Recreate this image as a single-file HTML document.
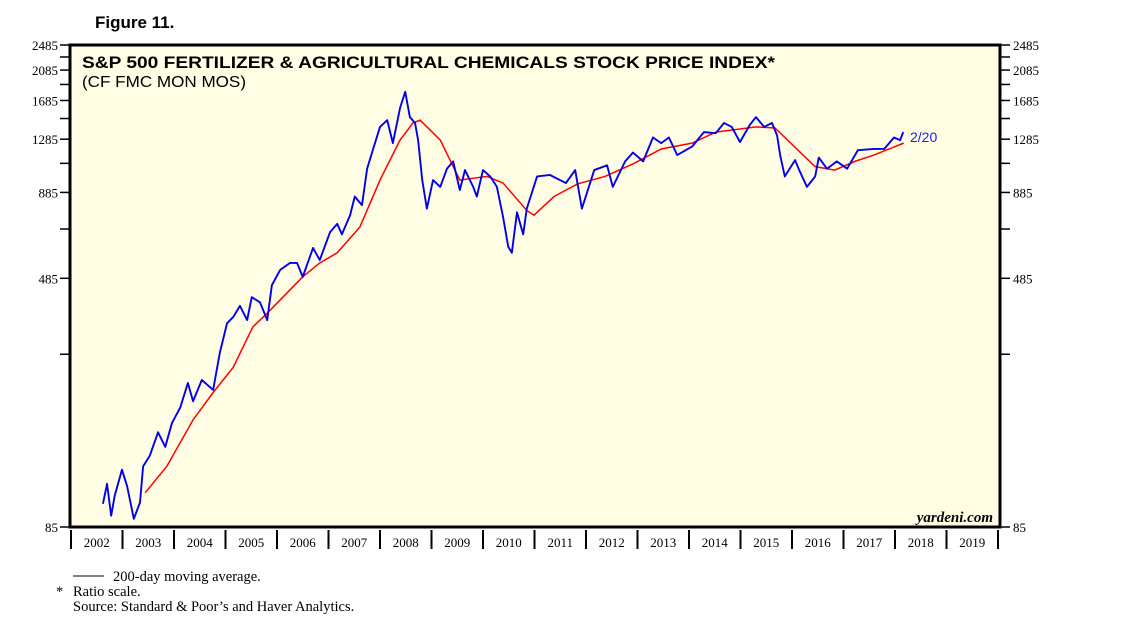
<!DOCTYPE html>
<html><head><meta charset="utf-8"><style>
body{margin:0;background:#fff;width:1138px;height:633px;overflow:hidden}
svg text{font-family:"Liberation Sans",sans-serif}
.serif{font-family:"Liberation Serif",serif}
</style></head><body>
<svg id="chart" width="1138" height="633">
<text x="95" y="28" font-size="17" font-weight="bold">Figure 11.</text>
<rect x="70" y="45" width="930" height="482" fill="#fffde4"/>
<g id="yax"></g>
<g id="xax"></g>
<g id="series"></g>
<rect x="70" y="45" width="930" height="482" fill="none" stroke="#000" stroke-width="3"/>
<text x="82" y="68" font-size="17" font-weight="bold" textLength="693" lengthAdjust="spacingAndGlyphs">S&amp;P 500 FERTILIZER &amp; AGRICULTURAL CHEMICALS STOCK PRICE INDEX*</text>
<text x="82" y="87" font-size="16" textLength="164" lengthAdjust="spacingAndGlyphs">(CF FMC MON MOS)</text>
<text x="910" y="142" font-size="14" fill="#1a1aff">2/20</text>
<text x="993" y="522" font-size="15" font-weight="bold" font-style="italic" text-anchor="end" class="serif">yardeni.com</text>
<line x1="73" y1="576" x2="104" y2="576" stroke="#000" stroke-width="1"/>
<text x="113" y="581" font-size="14.5" class="serif">200-day moving average.</text>
<text x="56" y="596" font-size="14.5" class="serif">*</text>
<text x="73" y="596" font-size="14.5" class="serif">Ratio scale.</text>
<text x="73" y="611" font-size="14.5" class="serif">Source: Standard &amp; Poor’s and Haver Analytics.</text>
</svg>
<script>
const priceDates=[2002.62,2002.70,2002.78,2002.85,2002.99,2003.09,2003.22,2003.34,2003.40,2003.53,2003.69,2003.83,2003.96,2004.12,2004.27,2004.37,2004.54,2004.76,2004.89,2005.03,2005.15,2005.28,2005.42,2005.51,2005.67,2005.81,2005.90,2006.06,2006.25,2006.39,2006.50,2006.70,2006.83,2007.03,2007.17,2007.26,2007.42,2007.51,2007.65,2007.75,2007.86,2008.00,2008.14,2008.25,2008.39,2008.49,2008.58,2008.68,2008.74,2008.82,2008.91,2009.03,2009.17,2009.30,2009.42,2009.55,2009.65,2009.81,2009.88,2010.00,2010.14,2010.27,2010.39,2010.49,2010.56,2010.66,2010.78,2010.85,2011.05,2011.30,2011.61,2011.79,2011.92,2012.16,2012.41,2012.52,2012.76,2012.91,2013.11,2013.30,2013.46,2013.61,2013.77,2014.06,2014.29,2014.52,2014.68,2014.83,2014.99,2015.18,2015.30,2015.46,2015.61,2015.71,2015.77,2015.86,2016.06,2016.14,2016.29,2016.45,2016.52,2016.68,2016.87,2017.07,2017.28,2017.59,2017.79,2017.98,2018.10,2018.16];
const priceValues=[100,115,92,106,127,113,90,101,130,140,165,149,176,196,233,205,238,222,288,354,370,400,362,425,410,362,462,514,540,540,490,600,551,670,710,660,755,860,810,1045,1190,1400,1468,1250,1600,1790,1500,1440,1277,965,790,965,920,1045,1100,900,1035,920,860,1035,990,920,745,605,580,770,660,790,990,1000,945,1035,790,1035,1070,920,1100,1170,1100,1300,1250,1300,1150,1220,1350,1340,1440,1400,1260,1420,1500,1400,1440,1320,1150,990,1110,1035,920,990,1130,1045,1100,1045,1190,1200,1200,1300,1277,1350,1300];
const maDates=[2003.44,2003.86,2004.37,2004.76,2005.15,2005.53,2005.81,2006.19,2006.50,2006.83,2007.17,2007.61,2008.00,2008.39,2008.64,2008.78,2009.17,2009.55,2010.08,2010.39,2010.85,2010.99,2011.38,2011.84,2012.37,2012.91,2013.46,2014.06,2014.52,2015.30,2015.67,2016.45,2016.83,2017.22,2017.59,2018.17];
const maValues=[108,130,180,218,260,345,380,437,490,540,580,695,965,1277,1440,1468,1277,965,990,945,780,755,860,940,990,1080,1200,1250,1350,1400,1390,1060,1035,1100,1150,1250];
const yTicks=[85,285,485,685,885,1085,1285,1485,1685,1885,2085,2285,2485];
const yLabels=[85,485,885,1285,1685,2085,2485];
const years=[2002,2003,2004,2005,2006,2007,2008,2009,2010,2011,2012,2013,2014,2015,2016,2017,2018,2019];
const NS='http://www.w3.org/2000/svg';
const X0=71,YW=51.5,YB=527,YT=45;
const xs=d=>X0+(d-2002)*YW;
const ys=v=>YB-(Math.log(v/85)/Math.log(2485/85))*(YB-YT);
function mk(tag,attrs,parent){const e=document.createElementNS(NS,tag);for(const k in attrs)e.setAttribute(k,attrs[k]);parent.appendChild(e);return e;}
const yax=document.getElementById('yax');
yTicks.forEach(v=>{
  const y=ys(v);
  const l=mk('line',{x1:60,x2:70,y1:y,y2:y,stroke:'#000','stroke-width':1.5},yax);
  
  
  const r=mk('line',{x1:1000,x2:1010,y1:y,y2:y,stroke:'#000','stroke-width':1.5},yax);
  
  
});
yLabels.forEach(v=>{
  const y=ys(v);
  const a=mk('text',{x:58,y:y+5,'text-anchor':'end','font-size':13,'class':'serif'},yax);a.textContent=v;
  
  
  const b=mk('text',{x:1013,y:y+5,'font-size':13,'class':'serif'},yax);b.textContent=v;
  
  
});
const xax=document.getElementById('xax');
years.concat([2020]).forEach(yr=>{
  const x=xs(yr);
  const t=mk('line',{x1:x,x2:x,y1:530,y2:549,stroke:'#000','stroke-width':2},xax);
  
  
});
years.forEach(yr=>{
  const t=mk('text',{x:xs(yr+0.5),y:547,'text-anchor':'middle','font-size':13,'class':'serif'},xax);t.textContent=yr;
  
  
});
const ser=document.getElementById('series');
const ma=mk('polyline',{points:maDates.map((d,i)=>xs(d)+','+ys(maValues[i])).join(' '),fill:'none',stroke:'#ff0000','stroke-width':1.5},ser);


const pl=mk('polyline',{points:priceDates.map((d,i)=>xs(d)+','+ys(priceValues[i])).join(' '),fill:'none',stroke:'#0000ee','stroke-width':1.9,'stroke-linejoin':'round'},ser);


</script>
</body></html>
